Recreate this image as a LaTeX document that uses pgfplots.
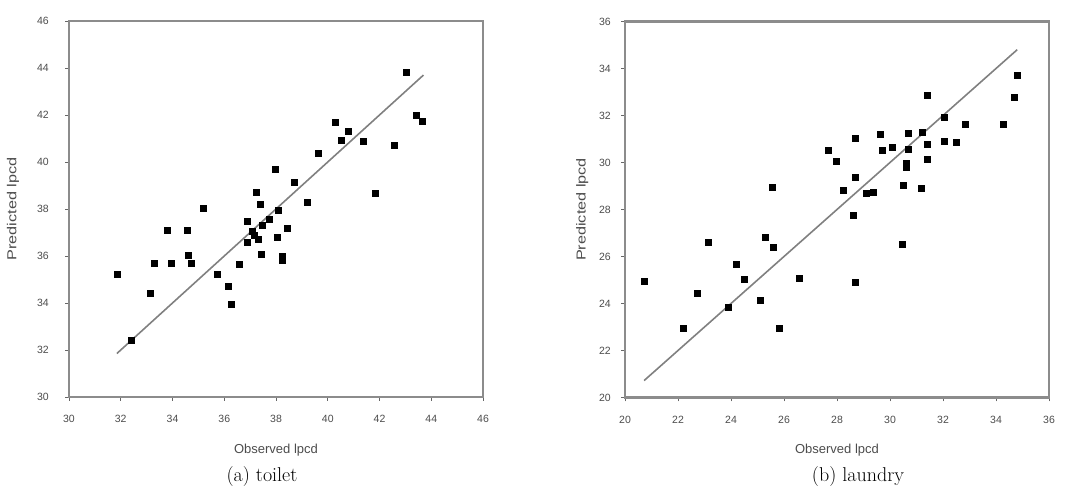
\documentclass[border=0pt]{standalone}
\usepackage{fontspec}
\usepackage{graphicx}
\usepackage{pgfplots}
\pgfplotsset{compat=1.18}
\newfontfamily\af{Liberation Sans}
\pgfplotsset{
  myax/.style={
    scale only axis, anchor=south west,
    height=376pt,
    axis line style={black!45, line width=2.6pt},
    tick style={black!60, line width=0.8pt},
    tick align=outside, major tick length=4pt, tick pos=left,
    xtick distance=2, ytick distance=2,
    ticklabel style={font=\af\fontsize{10.5}{12}\selectfont, text=black!70},
    /pgf/number format/assume math mode=true,
    xticklabel style={inner sep=0pt, anchor=north, yshift=-14pt},
    label style={font=\af\fontsize{13}{15}\selectfont, text=black!70},
    xlabel style={at={(axis description cs:0.5,-0.141)}, anchor=center},
    xlabel={Observed lpcd},
    ylabel={\scalebox{1.25}[1]{Predicted lpcd}},
  },
  pts/.style={only marks, mark=square*, mark size=3pt, mark options={fill=black, draw=black, rounded corners=0.8pt}},
  fit/.style={no marks, black!50, line width=1.6pt},
}
\begin{document}
\begin{tikzpicture}[x=1pt,y=1pt]
\useasboundingbox (0,0) rectangle (1084,487);
\begin{axis}[myax, at={(69pt,90pt)}, width=414pt,
  xmin=30, xmax=46, ymin=30, ymax=46,
  yticklabel style={inner sep=0pt, anchor=east, xshift=-16pt},
  ylabel style={at={(axis description cs:-0.135,0.5)}, anchor=center, rotate=0},
]
\addplot[fit] coordinates {(31.85,31.85) (43.7,43.7)};
\addplot[pts] table {
31.85 35.23
32.41 32.40
33.13 34.40
33.31 35.70
33.79 37.11
33.94 35.71
34.58 37.11
34.60 36.04
34.73 35.70
35.20 38.05
35.72 35.24
36.17 34.70
36.27 33.93
36.57 35.66
36.88 37.47
36.88 36.58
37.07 37.05
37.16 36.89
37.25 38.70
37.30 36.70
37.38 38.21
37.44 36.09
37.48 37.30
37.75 37.58
37.97 39.70
38.03 36.79
38.09 37.96
38.23 36.01
38.24 35.84
38.43 37.18
38.72 39.15
39.19 38.30
39.62 40.38
40.30 41.70
40.51 40.91
40.78 41.29
41.37 40.87
41.82 38.68
42.58 40.70
43.04 43.82
43.41 42.00
43.65 41.73
};
\end{axis}
\begin{axis}[myax, at={(625pt,89.5pt)}, width=424pt,
  xmin=20, xmax=36, ymin=20, ymax=36,
  yticklabel style={inner sep=0pt, anchor=east, xshift=-10pt},
  ylabel style={at={(axis description cs:-0.101,0.5)}, anchor=center, rotate=0},
]
\addplot[fit] coordinates {(20.72,20.72) (34.8,34.8)};
\addplot[pts] table {
20.72 24.96
22.20 22.97
22.73 24.42
23.15 26.60
23.89 23.86
24.18 25.69
24.50 25.05
25.09 24.14
25.30 26.81
25.55 28.95
25.58 26.40
25.83 22.93
26.56 25.07
27.66 30.52
27.97 30.04
28.22 28.80
28.61 27.76
28.67 24.90
28.70 31.03
28.70 29.39
29.11 28.68
29.38 28.75
29.63 31.22
29.70 30.54
30.08 30.65
30.47 26.54
30.50 29.04
30.62 29.95
30.62 29.82
30.68 31.25
30.68 30.57
31.17 28.90
31.22 31.29
31.40 32.88
31.40 30.78
31.40 30.13
32.04 31.94
32.04 30.89
32.49 30.85
32.83 31.63
34.29 31.61
34.67 32.79
34.79 33.71
};
\end{axis}
\node[anchor=base, font=\rmfamily\fontsize{20}{24}\selectfont] at (262,5.5) {(a) toilet};
\node[anchor=base, font=\rmfamily\fontsize{20}{24}\selectfont] at (858,5.5) {(b) laundry};
\end{tikzpicture}
\end{document}
